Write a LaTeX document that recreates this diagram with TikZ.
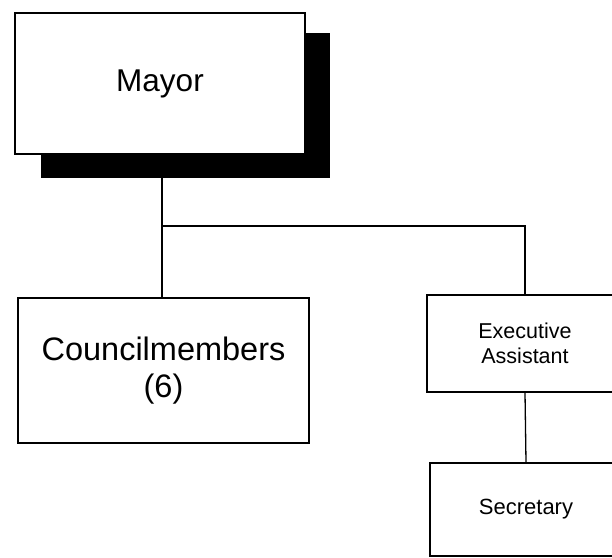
\documentclass[tikz,border=0pt]{standalone}
\usepackage{fontspec}
\setmainfont{Liberation Sans}
\begin{document}
\begin{tikzpicture}[x=1pt,y=-1pt,
  orgbox/.style={draw=black, line width=1.5pt, fill=white, rectangle, inner sep=0pt, align=center},
  link/.style={draw=black, line width=1.3pt}]
\useasboundingbox (0,0) rectangle (612,557);
\clip (0,0) rectangle (612,557);

% drop shadow behind the Mayor box
\node[fill=black, rectangle, inner sep=0pt, minimum width=289pt, minimum height=145pt] (shadow) at (185.5,105.5) {};
\node[orgbox, minimum width=290pt, minimum height=141pt, font=\fontsize{31.5}{37}\selectfont] (mayor) at (160,83.5) {Mayor};

\node[orgbox, minimum width=291pt, minimum height=145pt, font=\fontsize{32.5}{37}\selectfont] (council) at (163.5,370.5) {Councilmembers\\(6)};
\node[orgbox, minimum width=196pt, minimum height=97pt, font=\fontsize{21.5}{25}\selectfont] (exec) at (525,343.5) {Executive\\Assistant};
\node[orgbox, minimum width=192pt, minimum height=93pt, font=\fontsize{22}{25}\selectfont] (sec) at (526,509.5) {Secretary};

% reporting lines
\coordinate (j) at (162,226);
\draw[link] (j |- shadow.south) -- (j) -- (j -| exec.north) -- (exec.north);
\draw[link] (j) -- (j |- council.north);
\draw[link] (exec.south) -- (sec.north);
\end{tikzpicture}
\end{document}
